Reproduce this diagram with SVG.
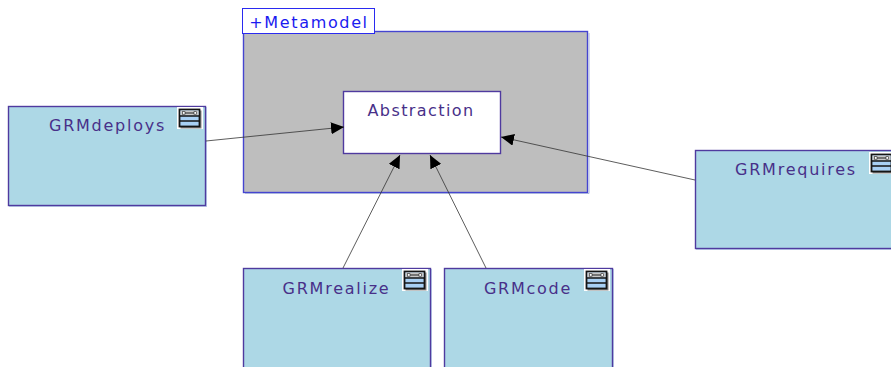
<svg xmlns="http://www.w3.org/2000/svg" width="891" height="367" viewBox="0 0 891 367">
<style>
.box{fill:#add8e6;stroke:#4f3a9f;stroke-width:1.4}
.sh{fill:none;stroke:#a9b4dc;stroke-width:1}
.lbl{font-family:"DejaVu Sans",sans-serif;font-size:16px;letter-spacing:1.75px;fill:#483089;text-anchor:middle}
.c{stroke:#333;stroke-width:.8;fill:none;marker-end:url(#a)}
</style>
<defs>
<marker id="a" markerUnits="userSpaceOnUse" markerWidth="14" markerHeight="12" refX="13" refY="6" orient="auto"><path d="M0 0L13 6L0 12z" fill="#000"/></marker>
<g id="ic">
<rect x="-2" y="-2" width="26" height="22" fill="#fff"/>
<rect x="1.500" y="1.500" width="21" height="18" fill="#888"/>
<rect x="0.500" y="0.500" width="20" height="17" fill="#a8d0f4" stroke="#151515" stroke-width="1.8"/>
<rect x="1.500" y="1.500" width="18" height="5" fill="#c8c8c8"/>
<path d="M1 7H20M1 12H20" stroke="#151515" stroke-width="1.4"/>
<path d="M5 4H16" stroke="#222"/>
<rect x="3.500" y="2.700" width="2.500" height="2.500" fill="#fff" stroke="#222" stroke-width=".6"/>
<rect x="15" y="2.700" width="2.500" height="2.500" fill="#fff" stroke="#222" stroke-width=".6"/>
</g>
</defs>
<rect width="891" height="367" fill="#fff"/>
<g id="metamodel">
<rect x="243.500" y="31.500" width="344" height="161" fill="#bebebe" stroke="#4545d0" stroke-width="1.400"/>
<path class="sh" d="M589 33V193.500H245"/>
<rect x="242.500" y="8.500" width="132" height="25" fill="#fff" stroke="#2a2af0"/>
<text x="309" y="28" font-family="DejaVu Sans,sans-serif" font-size="16" letter-spacing="1.650" fill="#1a1af0" text-anchor="middle">+Metamodel</text>
</g>
<g id="abstraction">
<rect x="343.500" y="91.500" width="157" height="62" fill="#fff" stroke="#4f3a9f" stroke-width="1.400"/>
<text class="lbl" x="421" y="116" style="letter-spacing:1.4px">Abstraction</text>
</g>
<g id="grmdeploys">
<rect class="box" x="8.500" y="106.500" width="197" height="99"/>
<path class="sh" d="M206.500 107V206.500H9"/>
<text class="lbl" x="107.500" y="131">GRMdeploys</text>
<use href="#ic" x="179" y="109"/>
</g>
<g id="grmrequires">
<rect class="box" x="695.500" y="150.500" width="197" height="98"/>
<path class="sh" d="M696 249.500H891"/>
<text class="lbl" x="796" y="175">GRMrequires</text>
<use href="#ic" x="871" y="154"/>
</g>
<g id="grmrealize">
<rect class="box" x="243.500" y="268.500" width="187" height="100"/>
<path class="sh" d="M431.500 269V367"/>
<text class="lbl" x="336.500" y="294">GRMrealize</text>
<use href="#ic" x="404" y="271"/>
</g>
<g id="grmcode">
<rect class="box" x="444.500" y="268.500" width="168" height="100"/>
<path class="sh" d="M613.500 269V367"/>
<text class="lbl" x="528" y="294">GRMcode</text>
<use href="#ic" x="586" y="271"/>
</g>
<g id="connectors">
<path class="c" d="M206 141L344 127"/>
<path class="c" d="M695 180L501 137"/>
<path class="c" d="M343 268L400 155"/>
<path class="c" d="M486 268L430 155"/>
</g>
</svg>
